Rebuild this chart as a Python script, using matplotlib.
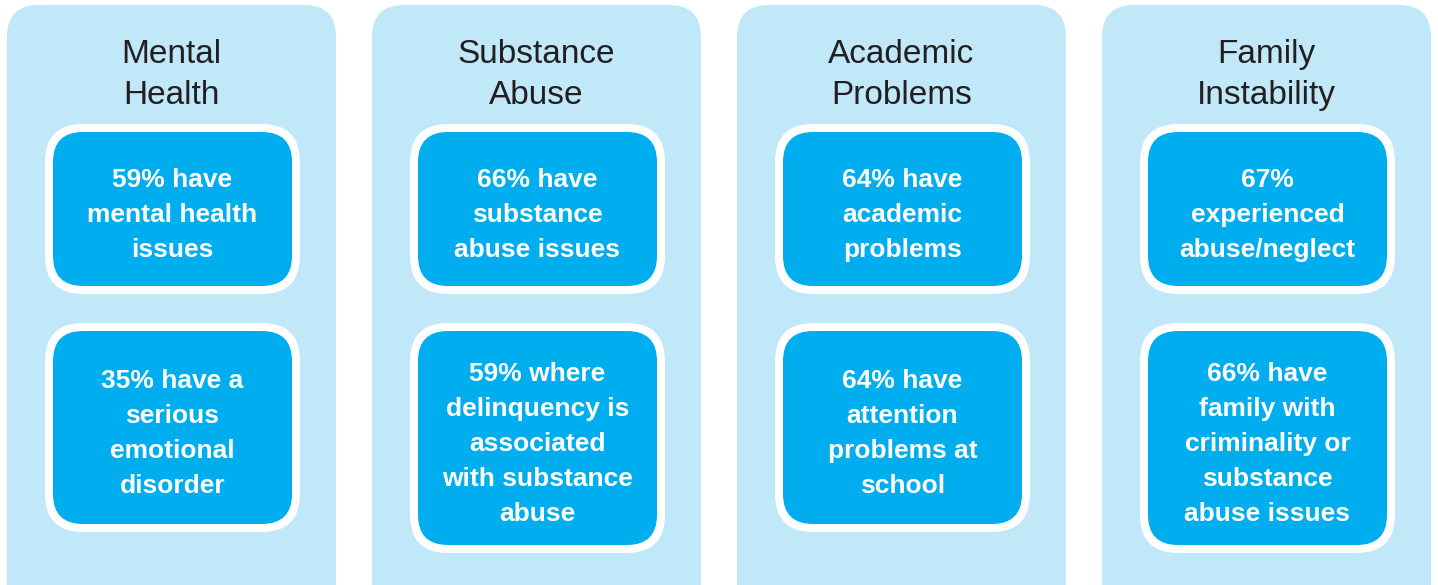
import matplotlib.pyplot as plt
from matplotlib.patches import FancyBboxPatch

plt.rcParams['font.family'] = ['Liberation Sans', 'DejaVu Sans']

categories = ['Mental\nHealth', 'Substance\nAbuse', 'Academic\nProblems', 'Family\nInstability']
top_facts = ['59% have\nmental health\nissues',
             '66% have\nsubstance\nabuse issues',
             '64% have\nacademic\nproblems',
             '67%\nexperienced\nabuse/neglect']
bottom_facts = ['35% have a\nserious\nemotional\ndisorder',
                '59% where\ndelinquency is\nassociated\nwith substance\nabuse',
                '64% have\nattention\nproblems at\nschool',
                '66% have\nfamily with\ncriminality or\nsubstance\nabuse issues']

panel_col = '#c0e8f9'
box_col = '#00aeef'
title_col = '#231f20'

W, H = 1438, 585
fig = plt.figure(figsize=(W / 100, H / 100), dpi=100)
ax = fig.add_axes([0, 0, 1, 1])
ax.set_xlim(0, W)
ax.set_ylim(H, 0)
ax.axis('off')

panel_w = 329
step = 365
box_off = 38
box_w = 255
top_y0, top_y1 = 124, 294
bot_y0 = 323


def rbox(x0, y0, x1, y1, r, fc):
    p = FancyBboxPatch((x0 + r, y0 + r), (x1 - x0) - 2 * r, (y1 - y0) - 2 * r,
                       boxstyle='round,pad=%g' % r, fc=fc, ec='none')
    ax.add_patch(p)


def fact_box(x0, y0, y1, txt):
    rbox(x0, y0, x0 + box_w, y1, 38, 'white')
    rbox(x0 + 8, y0 + 8, x0 + box_w - 8, y1 - 8, 30, box_col)
    ax.text(x0 + box_w / 2, (y0 + y1) / 2 + 6, txt, ha='center', va='center',
            color='white', fontsize=19, fontweight='bold', linespacing=1.59)


for i, cat in enumerate(categories):
    px = 7 + i * step
    rbox(px, 5, px + panel_w, 640, 32, panel_col)
    ax.text(px + panel_w / 2, 75, cat, ha='center', va='center',
            color=title_col, fontsize=24, linespacing=1.38)
    fact_box(px + box_off, top_y0, top_y1, top_facts[i])
    n = bottom_facts[i].count('\n') + 1
    bot_y1 = 532 if n <= 4 else 553
    fact_box(px + box_off, bot_y0, bot_y1, bottom_facts[i])

fig.savefig('out.png', dpi=100)
